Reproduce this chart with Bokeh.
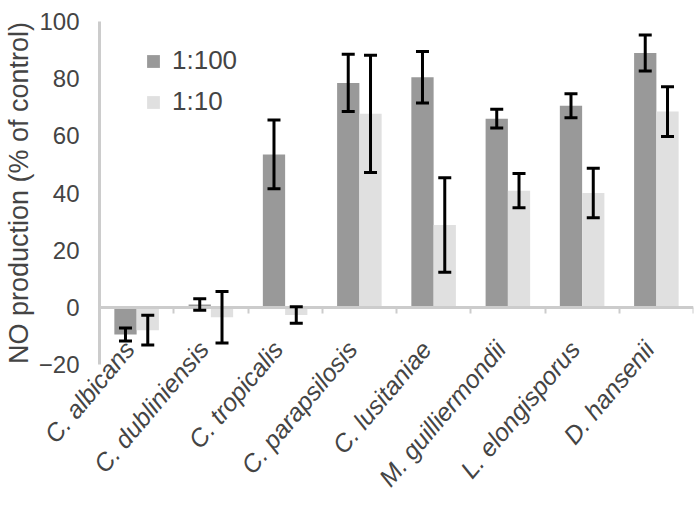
import numpy as np
from bokeh.plotting import figure
from bokeh.models import (Range1d, LinearAxis, FixedTicker, ColumnDataSource,
                          Whisker, Legend, LegendItem, CustomLabelingPolicy)
from bokeh.embed import file_html
from bokeh.resources import INLINE

categories = ["C. albicans", "C. dubliniensis", "C. tropicalis", "C. parapsilosis",
              "C. lusitaniae", "M. guilliermondii", "L. elongisporus", "D. hansenii"]
series_names = ["1:100", "1:10"]
mean_100 = [-9.5, 1.0, 53.5, 78.5, 80.5, 66.0, 70.5, 89.0]
err_100 = [2.3, 2.0, 12.0, 10.0, 9.0, 3.3, 4.2, 6.3]
mean_10 = [-8.0, -3.5, -2.7, 67.7, 28.8, 40.8, 40.0, 68.5]
err_10 = [5.2, 9.0, 2.9, 20.5, 16.5, 6.0, 8.7, 8.7]
y_ticks = [-20, 0, 20, 40, 60, 80, 100]

DARK = "#999999"
LIGHT = "#e0e0e0"
AXIS = "#cccccc"
FONT = "Liberation Sans"

n = len(categories)
centers = np.arange(n) + 0.5
boundaries = np.arange(1, n + 1)
bw = 0.3
label_shift = 0.1  # category labels sit slightly left of the group centre

p = figure(width=684, height=497, output_backend="svg", toolbar_location=None,
           x_range=Range1d(0, n), y_range=Range1d(-20, 100),
           x_axis_location=None, y_axis_location=None,
           min_border_left=88, min_border_right=2, min_border_top=21,
           min_border_bottom=133)
p.frame_width = 594
p.frame_height = 343
p.grid.visible = False
p.outline_line_color = None

src100 = ColumnDataSource(dict(x=centers - bw / 2, top=mean_100,
                               lo=np.array(mean_100) - np.array(err_100),
                               hi=np.array(mean_100) + np.array(err_100)))
src10 = ColumnDataSource(dict(x=centers + bw / 2, top=mean_10,
                              lo=np.array(mean_10) - np.array(err_10),
                              hi=np.array(mean_10) + np.array(err_10)))

hide_all = CustomLabelingPolicy(code="""
    const idx = [...indices]
    for (const i of idx) indices.unset(i)
    return indices
""")

# zero axis with boundary ticks
zero_axis = LinearAxis(fixed_location=0, ticker=FixedTicker(ticks=list(boundaries)),
                       major_label_policy=hide_all,
                       major_tick_out=6,
                       major_tick_in=0, major_tick_line_color=AXIS,
                       major_tick_line_width=2, minor_tick_line_color=None,
                       axis_line_color=AXIS, axis_line_width=3)
p.add_layout(zero_axis, "below")

r1 = p.vbar(x="x", top="top", bottom=0, width=bw, source=src100,
            fill_color=DARK, line_color=None)
r2 = p.vbar(x="x", top="top", bottom=0, width=bw, source=src10,
            fill_color=LIGHT, line_color=None)

for src in (src100, src10):
    w = Whisker(source=src, base="x", lower="lo", upper="hi",
                line_color="black", line_width=3, level="overlay")
    for h in (w.upper_head, w.lower_head):
        h.size = 13
        h.line_width = 3
        h.line_color = "black"
    p.add_layout(w)

yaxis = LinearAxis(ticker=FixedTicker(ticks=y_ticks),
                   axis_label="NO production (% of control)",
                   axis_label_text_font=FONT, axis_label_text_font_size="27px",
                   axis_label_text_font_style="normal",
                   axis_label_standoff=2,
                   major_label_text_font=FONT, major_label_text_font_size="24px",
                   major_label_standoff=14, major_tick_line_color=None,
                   minor_tick_line_color=None,
                   axis_line_color=AXIS, axis_line_width=3)
p.add_layout(yaxis, "left")

label_pos = centers - label_shift
xaxis = LinearAxis(ticker=FixedTicker(ticks=list(label_pos)),
                   major_label_overrides={float(c): name for c, name in zip(label_pos, categories)},
                   major_label_orientation=0.87,
                   major_label_text_font=FONT, major_label_text_font_size="25px",
                   major_label_text_font_style="italic",
                   major_label_standoff=-26,
                   axis_line_color=None, major_tick_line_color=None,
                   minor_tick_line_color=None)
p.add_layout(xaxis, "below")

legend = Legend(items=[LegendItem(label=series_names[0], renderers=[r1]),
                       LegendItem(label=series_names[1], renderers=[r2])],
                location=(46, 247), padding=0, margin=0, spacing=10,
                glyph_width=16, glyph_height=16, label_height=30,
                label_standoff=11,
                label_text_font=FONT, label_text_font_size="26px",
                border_line_color=None, background_fill_alpha=0)
p.add_layout(legend, "center")

open("out.html", "w").write(file_html(p, INLINE))
